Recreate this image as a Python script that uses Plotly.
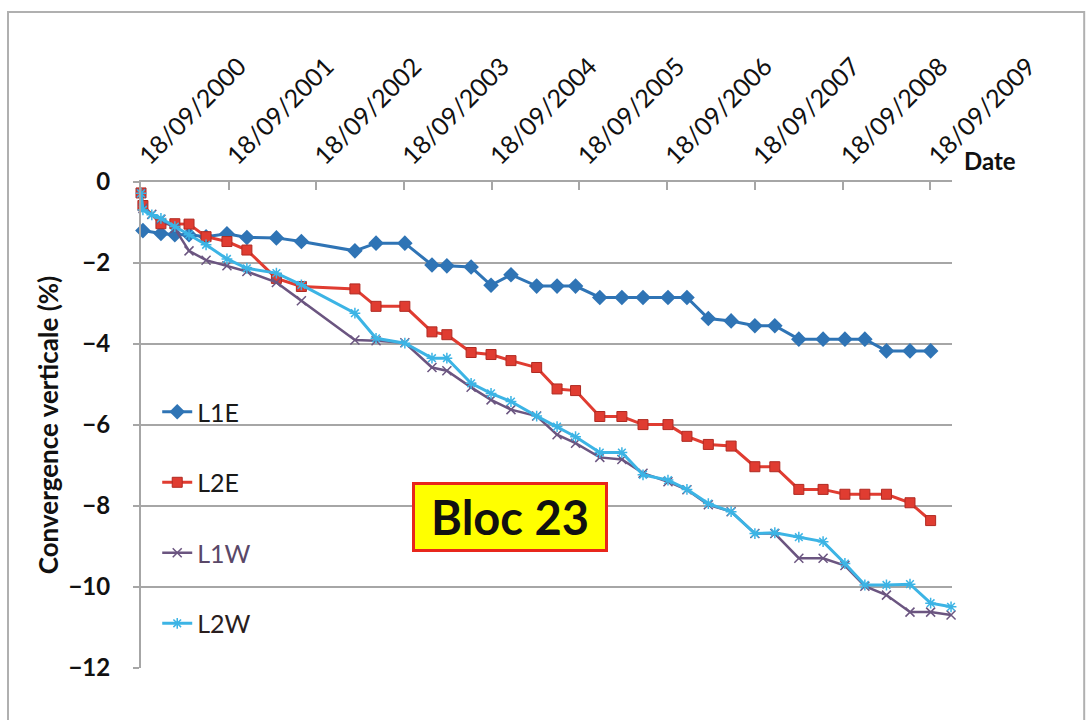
import plotly.graph_objects as go

# Survey dates (shared by all four convergence lines)
dates = [
    "2000-09-18", "2000-09-26", "2000-11-02", "2000-12-10", "2001-02-06",
    "2001-04-06", "2001-06-16", "2001-09-11", "2001-12-03", "2002-04-05",
    "2002-07-18", "2003-02-26", "2003-05-25", "2003-09-22", "2004-01-13",
    "2004-03-15", "2004-06-24", "2004-09-15", "2004-12-07", "2005-03-24",
    "2005-06-17", "2005-09-02", "2005-12-12", "2006-03-14", "2006-06-10",
    "2006-09-22", "2006-12-10", "2007-03-09", "2007-06-12", "2007-09-19",
    "2007-12-11", "2008-03-20", "2008-06-29", "2008-09-28", "2008-12-20",
    "2009-03-20", "2009-06-26", "2009-09-20", "2009-12-14",
]

# Vertical convergence (%) per line; None = no reading on that date
l1e = [None, -1.20, None, -1.27, -1.30, -1.30, -1.35, -1.28, -1.37, -1.38,
       -1.47, -1.70, -1.51, -1.51, -2.05, -2.07, -2.10, -2.55, -2.29, -2.57,
       -2.57, -2.57, -2.85, -2.85, -2.85, -2.85, -2.85, -3.37, -3.43, -3.55,
       -3.55, -3.88, -3.88, -3.88, -3.88, -4.17, -4.17, -4.17, None]
l2e = [-0.27, -0.58, None, -1.03, -1.03, -1.04, -1.35, -1.47, -1.68, -2.38,
       -2.58, -2.64, -3.07, -3.07, -3.70, -3.77, -4.21, -4.26, -4.41, -4.58,
       -5.11, -5.15, -5.79, -5.79, -5.99, -5.99, -6.28, -6.48, -6.52, -7.03,
       -7.03, -7.59, -7.59, -7.71, -7.71, -7.71, -7.92, -8.36, None]
l1w = [-0.28, -0.65, -0.80, -0.92, -1.15, -1.70, -1.93, -2.07, -2.21, -2.48,
       -2.93, -3.90, -3.92, -3.97, -4.58, -4.66, -5.07, -5.38, -5.62, -5.78,
       -6.24, -6.45, -6.80, -6.85, -7.19, -7.40, -7.60, -7.97, -8.14, -8.68,
       -8.68, -9.29, -9.29, -9.47, -9.98, -10.20, -10.62, -10.62, -10.69]
l2w = [-0.28, -0.69, -0.81, -0.90, -1.10, -1.30, -1.55, -1.90, -2.13, -2.25,
       -2.54, -3.24, -3.86, -3.98, -4.35, -4.35, -4.97, -5.22, -5.42, -5.78,
       -6.04, -6.29, -6.68, -6.68, -7.23, -7.36, -7.59, -7.94, -8.14, -8.68,
       -8.66, -8.77, -8.88, -9.42, -9.95, -9.95, -9.93, -10.40, -10.49]

tick_dates = ["2000-09-18", "2001-09-18", "2002-09-18", "2003-09-18", "2004-09-18",
              "2005-09-18", "2006-09-18", "2007-09-18", "2008-09-18", "2009-09-18"]
tick_text = ["18/09/2000", "18/09/2001", "18/09/2002", "18/09/2003", "18/09/2004",
             "18/09/2005", "18/09/2006", "18/09/2007", "18/09/2008", "18/09/2009"]

FONT = "Lato"
GRID = "#a6a6a6"

series = [
    ("L1E", l1e, "#2F74B5", dict(symbol="diamond", size=12), 3, "#1a1a1a"),
    ("L2E", l2e, "#E03C31", dict(symbol="square", size=10,
                                 line=dict(color="#B02A22", width=1)), 3, "#1a1a1a"),
    ("L1W", l1w, "#6B5580", dict(symbol="x-thin-open", size=9,
                                 line=dict(color="#6B5580", width=1.5)), 2.5, "#5a4868"),
    ("L2W", l2w, "#3CB4E5", dict(symbol="asterisk-open", size=9,
                                 line=dict(color="#3CB4E5", width=1.5)), 3, "#2a1e1e"),
]

fig = go.Figure()
for name, vals, color, marker, width, text_color in series:
    fig.add_trace(go.Scatter(
        x=dates, y=vals, mode="lines+markers",
        name=f"<span style='color:{text_color}'>{name}</span>",
        connectgaps=True, cliponaxis=False,
        line=dict(color=color, width=width),
        marker=dict(color=color, **marker),
        legendgroup=name,
    ))

fig.update_layout(
    width=1091, height=720,
    margin=dict(l=141, r=139, t=182, b=52),
    paper_bgcolor="white", plot_bgcolor="white",
    font=dict(family=FONT, color="#111111"),
    showlegend=True,
    legend=dict(
        x=0.02, y=0.574, xanchor="left", yanchor="top",
        bgcolor="rgba(0,0,0,0)", borderwidth=0,
        font=dict(size=25, family=FONT, color="#1a1a1a"),
        traceorder="grouped", tracegroupgap=35, itemwidth=30,
    ),
    xaxis=dict(
        type="date", side="top",
        range=["2000-09-18", "2009-12-18"],
        tickmode="array", tickvals=tick_dates, ticktext=tick_text,
        tickangle=-45, tickfont=dict(size=25, family=FONT, color="#111111"),
        ticks="inside", ticklen=8, tickcolor=GRID, tickwidth=1.5,
        showline=True, linecolor=GRID, linewidth=2,
        showgrid=False, zeroline=False,
    ),
    yaxis=dict(
        range=[-12, 0], dtick=2, tick0=0,
        tickfont=dict(size=24, family=FONT, color="#111111", weight="bold"),
        ticks="outside", ticklen=6, tickcolor=GRID, tickwidth=1.5,
        ticklabelstandoff=18,
        showline=True, linecolor=GRID, linewidth=2,
        showgrid=True, gridcolor=GRID, gridwidth=1.5,
        zeroline=False,
        title=dict(text="Convergence verticale (%)", standoff=2,
                   font=dict(size=26, family=FONT, color="#111111", weight="bold")),
    ),
    shapes=[
        dict(type="rect", xref="paper", yref="paper",
             x0=-0.164, x1=1.163, y0=-0.2, y1=1.35,
             line=dict(color="#b0b0b0", width=2), fillcolor="rgba(0,0,0,0)",
             layer="below"),
    ],
    annotations=[
        dict(text="<b>Date</b>", xref="paper", yref="paper",
             x=1.047, y=1.045, xanchor="center", yanchor="middle",
             showarrow=False, font=dict(size=24, family=FONT, color="#111111")),
        dict(text="<b>Bloc 23</b>", xref="paper", yref="paper",
             x=0.4556, y=0.3107, xanchor="center", yanchor="middle",
             showarrow=False, bgcolor="#FFFF00", bordercolor="#E8261C",
             borderwidth=3, width=188, height=62,
             font=dict(size=47, family=FONT, color="#111111")),
    ],
)

fig.write_html("out.html")
